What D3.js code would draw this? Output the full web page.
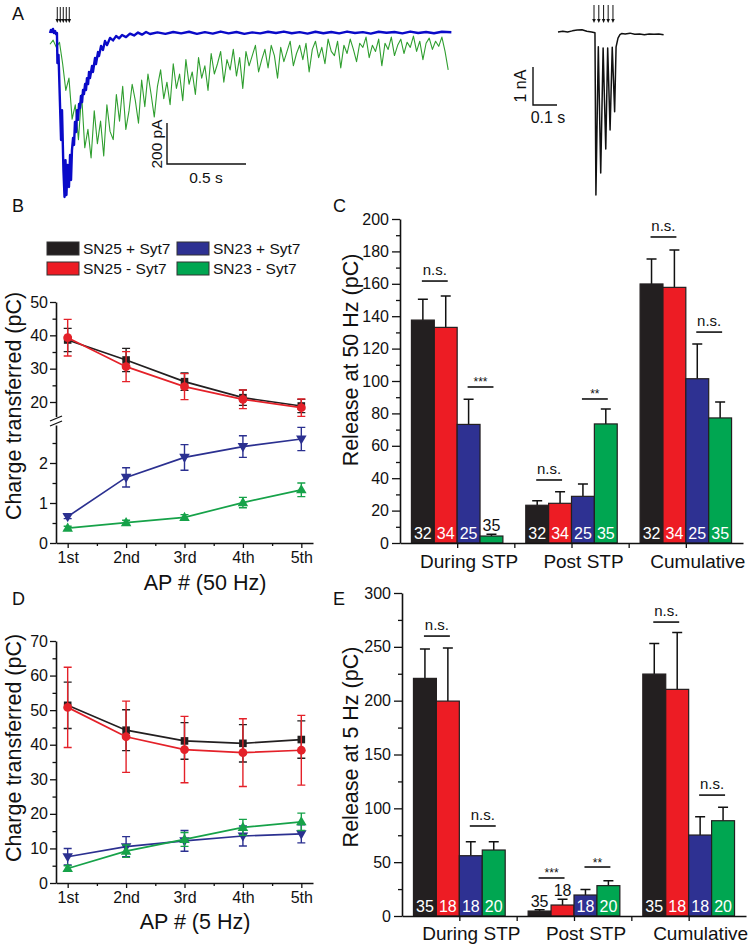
<!DOCTYPE html>
<html><head><meta charset="utf-8">
<script src="https://cdn.jsdelivr.net/npm/d3@7"></script>
<style>
body{margin:0;background:#fff}
svg text{font-family:"Liberation Sans",Arial,Helvetica,sans-serif}
</style>
</head><body>
<svg id="c" width="754" height="949"></svg>
<script>
// ================= DATA =================
const seriesNames = ["SN25 + Syt7","SN25 - Syt7","SN23 + Syt7","SN23 - Syt7"];
const apLabels = ["1st","2nd","3rd","4th","5th"];
const apIndex = [1,2,3,4,5];
const stpCategories = ["During STP","Post STP","Cumulative"];

// Panel A – left traces (time s, current pA)
const blueT = [0,.006,.013,.019,.025,.032,.038,.044,.047,.054,.063,.070,.076,.085,.092,.098,.104,.111,.120,.127,.133,
 .139,.146,.152,.158,.165,.171,.177,.184,.190,.196,.203,.209,.215,.222,.228,.234,.241,.247,.253,.266,.272,.285,.291,.304,.310,.323,.335,.348,.361,.380,.399,.418,.437,.456,.481,.506,.532,.557,.582,.608,.633,
 .68,.73,.78,.83,.88,.93,.98,1.03,1.08,1.13,1.18,1.23,1.28,1.33,1.38,1.43,1.48,1.53,1.58,1.63,1.68,1.73,1.78,1.83,1.88,1.93,1.98,2.03,2.08,2.13,2.18,2.23,2.28,2.33,2.38,2.43,2.48,2.54];
const blueI = [0,15,5,20,0,10,-5,0,-146,-107,-341,-522,-376,-668,-800,-620,-790,-644,-751,-595,-717,
 -571,-512,-546,-434,-483,-376,-424,-346,-366,-307,-337,-278,-298,-249,-278,-220,-249,-190,-220,-161,-190,-122,-151,-93,-112,-63,-83,-39,-59,-24,-36,-15,-26,-10,-20,-3,-12,2,-8,5,-5,
 3,-4,5,-2,6,-4,4,-3,7,-2,5,-4,3,-2,6,0,7,-1,4,-3,6,-1,5,-2,7,0,4,-3,6,1,5,-2,7,0,5,-1,6,4];
const greenDt = 0.02;
const greenI = [-55,-35,-70,-45,-150,
-280,-220,-420,-350,-520,
-300,-560,-470,-610,-380,
-540,-430,-600,-350,-480,
-520,-300,-430,-260,-470,
-380,-250,-330,-440,-230,
-360,-200,-300,-410,-260,
-180,-320,-240,-350,-150,
-270,-200,-330,-130,-250,
-190,-300,-120,-220,-160,
-280,-100,-200,-150,-90,
-240,-130,-180,-80,-210,
-120,-270,-90,-160,-110,
-60,-190,-130,-80,-170,
-60,-110,-220,-70,-140,
-90,-40,-160,-100,-60,
-130,-50,-190,-80,-40,
-120,-70,-150,-30,-90,
-110,-40,-170,-60,-100,
-30,-80,-140,-50,-70,
-20,-120,-60,-90,-30,
-160,-50,-80,-20,-110,
-60,-30,-100,-45,-70,
-15,-90,-40,-130,-50,
-25,-80,-40,-65,-20,
-90,-180];
const stimA = [0.046,0.065,0.084,0.103,0.122];

// Panel A – inset (time s, current nA)
const insetT = [0,0.02,0.04,0.06,0.08,0.10,0.12,0.14,0.154,0.158,0.168,0.178,0.188,0.199,0.207,0.217,0.226,0.236,0.242,0.25,0.258,0.265,0.28,0.30,0.32,0.34,0.36,0.38,0.40,0.42,0.44];
const insetI = [0,0.02,0,0.03,0.05,0.06,0.02,0,-0.02,-4.29,-0.39,-3.71,-0.42,-3.08,-0.42,-2.58,-0.40,-2.10,-0.39,-0.16,-0.07,-0.04,-0.05,-0.03,-0.06,-0.05,-0.07,-0.05,-0.06,-0.05,-0.07];
const stimInset = [0.150,0.170,0.190,0.209,0.229];

// Panel B – charge per AP at 50 Hz (pC)
const b50SN25p = [38.6,32.6,26.1,21.3,18.8];
const b50SN25pErr = [3.5,3.5,2.6,2.3,2.0];
const b50SN25m = [39.3,30.6,24.6,20.8,18.3];
const b50SN25mErr = [5.5,4.5,3.9,2.8,2.6];
const b50SN23p = [0.66,1.64,2.14,2.41,2.60];
const b50SN23pErr = [0.05,0.24,0.32,0.27,0.29];
const b50SN23m = [0.37,0.51,0.64,1.01,1.33];
const b50SN23mErr = [0.05,0.06,0.07,0.13,0.17];
const bUpperTicks = [20,30,40,50], bUpperMinor = [25,35,45];
const bLowerTicks = [0,1,2], bLowerMinor = [0.5,1.5,2.5];

// Panel C – release at 50 Hz (pC)
const c50SN25p = [137.6,23.3,159.9], c50SN25pErr = [12.8,2.8,15.4];
const c50SN25m = [133.1,24.5,157.8], c50SN25mErr = [19.4,7.2,23.1];
const c50SN23p = [73.2,28.8,101.4],  c50SN23pErr = [15.5,7.6,21.4];
const c50SN23m = [4.3,73.5,77.2],    c50SN23mErr = [1.1,9.2,9.8];
const c50N = [32,34,25,35];
const c50Sig = [
  {g:0,a:0,b:1,y:161.7,t:"n.s."},{g:0,a:2,b:3,y:96.3,t:"***"},
  {g:1,a:0,b:1,y:38.9,t:"n.s."},{g:1,a:2,b:3,y:88.9,t:"**"},
  {g:2,a:0,b:1,y:188.9,t:"n.s."},{g:2,a:2,b:3,y:130.2,t:"n.s."}];
const cTicks = [0,20,40,60,80,100,120,140,160,180,200];
const cMinor = [10,30,50,70,90,110,130,150,170,190];

// Panel D – charge per AP at 5 Hz (pC)
const d5SN25p = [51.4,44.2,41.1,40.4,41.5], d5SN25pErr = [6.7,5.9,5.3,5.4,5.4];
const d5SN25m = [50.8,42.3,38.6,37.7,38.4], d5SN25mErr = [11.6,10.3,9.6,9.8,10.1];
const d5SN23p = [7.6,10.5,12.2,13.6,14.2],  d5SN23pErr = [2.4,2.9,3.0,2.9,2.6];
const d5SN23m = [4.2,9.2,12.6,16.1,17.7],   d5SN23mErr = [0.8,1.8,2.0,2.3,2.5];
const dTicks = [0,10,20,30,40,50,60,70], dMinor = [5,15,25,35,45,55,65];

// Panel E – release at 5 Hz (pC)
const e5SN25p = [220.7,4.6,224.7], e5SN25pErr = [27.2,1.2,28.5];
const e5SN25m = [199.6,10.2,210.5], e5SN25mErr = [49.4,5.3,52.8];
const e5SN23p = [56.0,19.5,75.2],  e5SN23pErr = [13.0,5.2,17.0];
const e5SN23m = [61.3,28.2,88.5],  e5SN23mErr = [7.7,4.6,12.4];
const e5N = [35,18,18,20];
const e5Sig = [
  {g:0,a:0,b:1,y:260,t:"n.s."},{g:0,a:2,b:3,y:83.6,t:"n.s."},
  {g:1,a:0,b:1,y:35.3,t:"***"},{g:1,a:2,b:3,y:45.5,t:"**"},
  {g:2,a:0,b:1,y:273,t:"n.s."},{g:2,a:2,b:3,y:112.3,t:"n.s."}];
const eTicks = [0,50,100,150,200,250,300], eMinor = [25,75,125,175,225,275];

// ================= STYLE =================
const COL = ["#231f20","#ed1c24","#2e3192","#00a651"];
const LINECOL = ["#231f20","#e42129","#2b3090","#16a249"];
const svg = d3.select("#c");

function txt(x,y,s,size,opts={}){
  const t = svg.append("text").attr("x",x).attr("y",y).attr("font-size",size).text(s)
    .attr("fill",opts.fill||"#111");
  if(opts.anchor) t.attr("text-anchor",opts.anchor);
  if(opts.rot) t.attr("transform",`rotate(-90,${x},${y})`);
  return t;
}
function styleAxis(g, size){
  g.attr("font-family",null).attr("font-size",size);
  g.selectAll("text").attr("fill","#111");
  g.select(".domain").attr("stroke","#111").attr("stroke-width",1.6);
  g.selectAll(".tick line").attr("stroke","#111").attr("stroke-width",1.3);
}
function yAxis(scale,x,majors,minors,maj,min,pad,fs){
  const g = svg.append("g").attr("transform",`translate(${x},0)`)
    .call(d3.axisLeft(scale).tickValues(majors).tickSize(maj).tickSizeOuter(0).tickPadding(pad).tickFormat(d3.format("d")));
  styleAxis(g,fs);
  const m = svg.append("g").attr("transform",`translate(${x},0)`)
    .call(d3.axisLeft(scale).tickValues(minors).tickSize(min).tickSizeOuter(0).tickFormat(""));
  m.select(".domain").remove(); styleAxis(m,fs);
}
function xAxis(scale,y,majors,minors,labels,maj,min,fs,pad){
  const g = svg.append("g").attr("transform",`translate(0,${y})`)
    .call(d3.axisBottom(scale).tickValues(majors).tickSize(maj).tickSizeOuter(0).tickPadding(pad)
      .tickFormat((d,i)=>labels?labels[i]:""));
  styleAxis(g,fs);
  const m = svg.append("g").attr("transform",`translate(0,${y})`)
    .call(d3.axisBottom(scale).tickValues(minors).tickSize(min).tickSizeOuter(0).tickFormat(""));
  m.select(".domain").remove(); styleAxis(m,fs);
}

// ================= PANEL A =================
txt(12,20,"A",18);
const xA = d3.scaleLinear([0,2.544],[50,452]);
const yA = d3.scaleLinear([0,-800],[33,197]);
const greenT = greenI.map((_,i)=>i*greenDt);
svg.append("path").datum(greenI.map((v,i)=>[greenT[i],v]))
  .attr("d",d3.line().x(d=>xA(d[0])).y(d=>yA(d[1])))
  .attr("fill","none").attr("stroke","#2f9e2f").attr("stroke-width",1.1).attr("stroke-linejoin","round");
svg.append("path").datum(blueI.map((v,i)=>[blueT[i],v]))
  .attr("d",d3.line().x(d=>xA(d[0])).y(d=>yA(d[1])))
  .attr("fill","none").attr("stroke","#0a0ac8").attr("stroke-width",2.4).attr("stroke-linejoin","round");
function arrows(times,xs,y0,y1){
  times.forEach(t=>{
    const x = xs(t);
    svg.append("line").attr("x1",x).attr("x2",x).attr("y1",y0).attr("y2",y1-3)
      .attr("stroke","#111").attr("stroke-width",1);
    svg.append("path").attr("d",`M${x-1.8},${y1-4}L${x+1.8},${y1-4}L${x},${y1}Z`).attr("fill","#111");
  });
}
arrows(stimA,xA,7,23);
svg.append("path").attr("d","M167,123V164H246").attr("fill","none").attr("stroke","#111").attr("stroke-width",1.4);
txt(162,144,"200 pA",15.5,{anchor:"middle",rot:true});
txt(206,183,"0.5 s",15.5,{anchor:"middle"});

// inset
const xI = d3.scaleLinear([0,0.44],[558,663.6]);
const yI = d3.scaleLinear([0,-4.3],[32,195.4]);
svg.append("path").datum(insetI.map((v,i)=>[insetT[i],v]))
  .attr("d",d3.line().x(d=>xI(d[0])).y(d=>yI(d[1])))
  .attr("fill","none").attr("stroke","#111").attr("stroke-width",1.5).attr("stroke-linejoin","round");
arrows(stimInset,xI,5,23);
svg.append("path").attr("d","M533,67V105H557").attr("fill","none").attr("stroke","#111").attr("stroke-width",1.4);
txt(526,86,"1 nA",16,{anchor:"middle",rot:true});
txt(548,123,"0.1 s",16,{anchor:"middle"});

// ================= LEGEND (B) =================
txt(12,212,"B",18);
const legPos = [[47,242],[47,262],[177,242],[177,262]];
[0,1,2,3].forEach(i=>{
  const [lx,ly] = legPos[i];
  svg.append("rect").attr("x",lx).attr("y",ly).attr("width",32).attr("height",13)
    .attr("fill",COL[i]).attr("stroke","#333").attr("stroke-width",1);
  txt(lx+36,ly+12,seriesNames[i],15.5);
});

// ================= LINE PANELS =================
function marker(sel,type,x,y,color){
  if(type==="sq") sel.append("rect").attr("x",x-3.8).attr("y",y-3.8).attr("width",7.6).attr("height",7.6).attr("fill",color);
  else if(type==="ci") sel.append("circle").attr("cx",x).attr("cy",y).attr("r",4.4).attr("fill",color);
  else {
    const p = d3.symbol(d3.symbolTriangle,48)();
    sel.append("path").attr("d",p).attr("fill",color)
      .attr("transform",`translate(${x},${y + (type==="dn"?-0.5:0.5)}) rotate(${type==="dn"?180:0})`);
  }
}
function series(xs,ys,vals,errs,color,type){
  const g = svg.append("g");
  g.append("path").datum(vals).attr("d",d3.line().x((d,i)=>xs(apIndex[i])).y(d=>ys(d)))
    .attr("fill","none").attr("stroke",color).attr("stroke-width",1.7);
  vals.forEach((v,i)=>{
    const x = xs(apIndex[i]), y1 = ys(v+errs[i]), y2 = ys(v-errs[i]);
    g.append("path").attr("d",`M${x},${y1}V${y2}M${x-4},${y1}H${x+4}M${x-4},${y2}H${x+4}`)
      .attr("stroke",color).attr("stroke-width",1.4).attr("fill","none");
  });
  vals.forEach((v,i)=>marker(g,type,xs(apIndex[i]),ys(v),color));
}

// Panel B
const xB = d3.scaleLinear([0.8,5.2],[56,313]);
const yBu = d3.scaleLinear([15.5,50],[417,302]);
const yBl = d3.scaleLinear([0,2.95],[543,425]);
yAxis(yBu,56,bUpperTicks,bUpperMinor,6,3.5,2,16);
yAxis(yBl,56,bLowerTicks,bLowerMinor,6,3.5,2,16);
svg.append("rect").attr("x",49).attr("y",417).attr("width",14).attr("height",8).attr("fill","#fff");
svg.append("path").attr("d","M50,421L62,416M50,426L62,421").attr("stroke","#111").attr("stroke-width",1.3);
xAxis(xB,543,apIndex,[1.5,2.5,3.5,4.5],apLabels,5,3,16,4);
series(xB,yBu,b50SN25p,b50SN25pErr,LINECOL[0],"sq");
series(xB,yBu,b50SN25m,b50SN25mErr,LINECOL[1],"ci");
series(xB,yBl,b50SN23p,b50SN23pErr,LINECOL[2],"dn");
series(xB,yBl,b50SN23m,b50SN23mErr,LINECOL[3],"up");
txt(21,406,"Charge transferred (pC)",21.5,{anchor:"middle",rot:true});
txt(205,590,"AP # (50 Hz)",21.5,{anchor:"middle"});

// Panel D
txt(12,605,"D",18);
const xD = d3.scaleLinear([0.8,5.2],[56,313]);
const yD = d3.scaleLinear([0,70],[883,641]);
yAxis(yD,56,dTicks,dMinor,6,3.5,2,16);
xAxis(xD,883,apIndex,[1.5,2.5,3.5,4.5],apLabels,5,3,16,4);
series(xD,yD,d5SN25p,d5SN25pErr,LINECOL[0],"sq");
series(xD,yD,d5SN25m,d5SN25mErr,LINECOL[1],"ci");
series(xD,yD,d5SN23p,d5SN23pErr,LINECOL[2],"dn");
series(xD,yD,d5SN23m,d5SN23mErr,LINECOL[3],"up");
txt(21,748,"Charge transferred (pC)",21.5,{anchor:"middle",rot:true});
txt(195,929,"AP # (5 Hz)",21.5,{anchor:"middle"});

// ================= BAR PANELS =================
function barPanel(xs,ys,valsList,errList,counts,sig){
  const bw = xs(1.2)-xs(1.0);
  const g = svg.append("g");
  valsList.forEach((vals,s)=>{
    vals.forEach((v,gi)=>{
      const cx = xs(gi+1+(s-1.5)*0.2);
      const top = ys(v), et = ys(v+errList[s][gi]);
      g.append("path").attr("d",`M${cx},${top}V${et}M${cx-5},${et}H${cx+5}`)
        .attr("stroke","#111").attr("stroke-width",1.5).attr("fill","none");
      g.append("rect").attr("x",cx-bw/2).attr("y",top).attr("width",bw).attr("height",ys(0)-top)
        .attr("fill",COL[s]).attr("stroke","#231f20").attr("stroke-width",1.2);
      const h = ys(0)-top;
      if(h>=18) txt(cx,ys(0)-4.3,String(counts[s]),16,{anchor:"middle",fill:"#fff"});
      else txt(cx,et-3,String(counts[s]),16,{anchor:"middle",fill:"#111"});
    });
  });
  sig.forEach(s=>{
    const xa = xs(s.g+1+(s.a-1.5)*0.2), xb = xs(s.g+1+(s.b-1.5)*0.2), y = ys(s.y);
    svg.append("line").attr("x1",xa-1).attr("x2",xb+2).attr("y1",y).attr("y2",y)
      .attr("stroke","#111").attr("stroke-width",1.6);
    if(s.t==="n.s.") txt((xa+xb)/2+0.5,y-6,s.t,15,{anchor:"middle"});
    else txt((xa+xb)/2+0.5,y-0.5,s.t,12,{anchor:"middle"});
  });
}

// Panel C
txt(333,212,"C",18);
const xC = d3.scaleLinear([0.5,3.5],[400,743]);
const yC = d3.scaleLinear([0,200],[543,219]);
barPanel(xC,yC,[c50SN25p,c50SN25m,c50SN23p,c50SN23m],[c50SN25pErr,c50SN25mErr,c50SN23pErr,c50SN23mErr],c50N,c50Sig);
yAxis(yC,400,cTicks,cMinor,8,4,3,16);
xAxis(xC,543,[1,2,3],[1.5,2.5],null,5,5,16,4);
stpCategories.forEach((c,i)=>txt(xC(i+1)+12,568,c,19,{anchor:"middle"}));
txt(358,360,"Release at 50 Hz (pC)",21.5,{anchor:"middle",rot:true});

// Panel E
txt(333,605,"E",18);
const xE = d3.scaleLinear([0.5,3.5],[402,746]);
const yE = d3.scaleLinear([0,300],[916,593]);
barPanel(xE,yE,[e5SN25p,e5SN25m,e5SN23p,e5SN23m],[e5SN25pErr,e5SN25mErr,e5SN23pErr,e5SN23mErr],e5N,e5Sig);
yAxis(yE,402,eTicks,eMinor,8,4,3,16);
xAxis(xE,916,[1,2,3],[1.5,2.5],null,5,5,16,4);
stpCategories.forEach((c,i)=>txt(xE(i+1)+12,940,c,19,{anchor:"middle"}));
txt(358,747,"Release at 5 Hz (pC)",21.5,{anchor:"middle",rot:true});
</script>
</body></html>
